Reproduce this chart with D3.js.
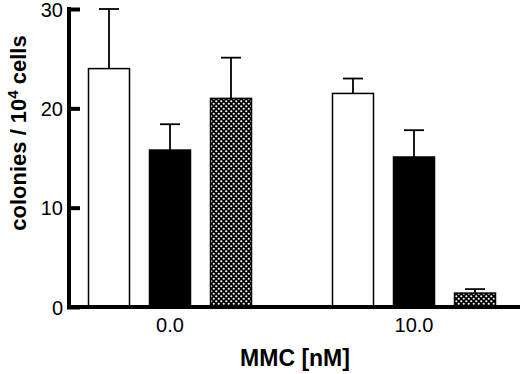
<!DOCTYPE html>
<html>
<head>
<meta charset="utf-8">
<script src="https://cdn.jsdelivr.net/npm/d3@7"></script>
<style>
  body { margin: 0; background: #fff; }
  text { font-family: "Liberation Sans", Arial, sans-serif; }
</style>
</head>
<body>
<div class="chart"></div>
<script>
// data
var doses = ["0.0", "10.0"];
var series = ["open", "solid", "checked"];
var means = [[24.0, 15.8, 21.0], [21.5, 15.1, 1.4]];
var errors = [[6.0, 2.6, 4.1], [1.5, 2.7, 0.4]];
var yTicks = [0, 10, 20, 30];

var width = 520, height = 374;
var axisX = 69, y0 = 307, yTop = 9;

var svg = d3.select(".chart")
	.append("svg")
	.attr("width", width)
	.attr("height", height);

// checked fill
var pat = svg.append("defs").append("pattern")
	.attr("id", "checks")
	.attr("patternUnits", "userSpaceOnUse")
	.attr("width", 5)
	.attr("height", 5);
pat.append("rect").attr("width", 5).attr("height", 5).attr("fill", "#000");
pat.append("circle").attr("cx", 1.25).attr("cy", 1.25).attr("r", 1.1).attr("fill", "#fff");
pat.append("circle").attr("cx", 3.75).attr("cy", 3.75).attr("r", 1.1).attr("fill", "#fff");

var fills = { open: "#fff", solid: "#000", checked: "url(#checks)" };

var y = d3.scaleLinear()
	.domain([0, 30])
	.range([y0, yTop]);

var x = d3.scaleBand()
	.domain(doses)
	.range([48, 536])
	.padding(0);

var xs = d3.scaleBand()
	.domain(series)
	.range([0, x.bandwidth()])
	.paddingInner(20 / 61)
	.paddingOuter((1 + 20 / 61) / 2);

var rows = [];
doses.forEach(function(d, i) {
	series.forEach(function(s, j) {
		rows.push({ dose: d, s: s, v: means[i][j], e: errors[i][j] });
	});
});

// bars
svg.append("g").selectAll("rect")
	.data(rows)
	.join("rect")
	.attr("x", d => x(d.dose) + xs(d.s))
	.attr("y", d => y(d.v))
	.attr("width", xs.bandwidth())
	.attr("height", d => y0 - y(d.v))
	.attr("fill", d => fills[d.s])
	.attr("stroke", "#000")
	.attr("stroke-width", 1.5);

// error bars
var eb = svg.append("g")
	.attr("stroke", "#000")
	.attr("stroke-width", 1.8);

eb.selectAll("line.stem")
	.data(rows)
	.join("line")
	.attr("class", "stem")
	.attr("x1", d => x(d.dose) + xs(d.s) + xs.bandwidth() / 2)
	.attr("x2", d => x(d.dose) + xs(d.s) + xs.bandwidth() / 2)
	.attr("y1", d => y(d.v))
	.attr("y2", d => y(d.v + d.e));

eb.selectAll("line.cap")
	.data(rows)
	.join("line")
	.attr("class", "cap")
	.attr("x1", d => x(d.dose) + xs(d.s) + xs.bandwidth() / 2 - 10)
	.attr("x2", d => x(d.dose) + xs(d.s) + xs.bandwidth() / 2 + 10)
	.attr("y1", d => y(d.v + d.e))
	.attr("y2", d => y(d.v + d.e));

// y axis, ticks pointing inward
var gy = svg.append("g")
	.attr("transform", "translate(" + axisX + ",0)")
	.call(d3.axisRight(y).tickValues(yTicks).tickSize(11).tickFormat(d3.format("d")).tickSizeOuter(0));

gy.select(".domain").remove();
gy.selectAll(".tick line")
	.attr("stroke-width", 4)
	.attr("x1", -2);
gy.selectAll(".tick text")
	.attr("x", -6)
	.attr("dy", "0.36em")
	.style("text-anchor", "end")
	.style("font-size", "20px")
	.attr("fill", "#000");

svg.append("line")
	.attr("x1", axisX)
	.attr("x2", axisX)
	.attr("y1", y(30) - 2)
	.attr("y2", y0 + 2)
	.attr("stroke", "#000")
	.attr("stroke-width", 4);

// x axis
svg.append("line")
	.attr("x1", axisX - 2)
	.attr("x2", width)
	.attr("y1", y0)
	.attr("y2", y0)
	.attr("stroke", "#000")
	.attr("stroke-width", 4);

var gx = svg.append("g")
	.attr("transform", "translate(0," + y0 + ")")
	.call(d3.axisBottom(x).tickSize(0).tickPadding(11));
gx.select(".domain").remove();
gx.selectAll(".tick text")
	.style("font-size", "20px")
	.attr("fill", "#000");

// axis titles
svg.append("text")
	.attr("x", 295)
	.attr("y", 366)
	.style("text-anchor", "middle")
	.style("font-size", "23px")
	.style("font-weight", "bold")
	.text("MMC [nM]");

var yt = svg.append("text")
	.attr("transform", "translate(26,133) rotate(-90)")
	.style("text-anchor", "middle")
	.style("font-size", "22px")
	.style("font-weight", "bold");
yt.append("tspan").text("colonies / 10");
yt.append("tspan").attr("dy", -8).style("font-size", "15px").text("4");
yt.append("tspan").attr("dy", 8).text(" cells");
</script>
</body>
</html>
